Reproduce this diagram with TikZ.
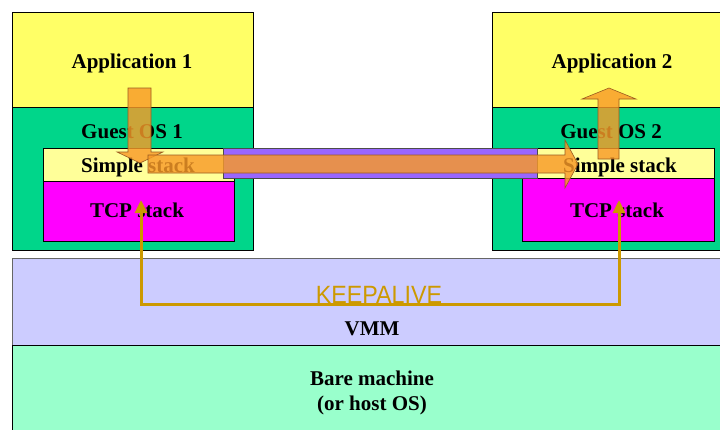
\documentclass[tikz,border=0pt]{standalone}
\usepackage{fontspec}
\setmainfont{Liberation Serif}
\setsansfont{Liberation Sans}
\usetikzlibrary{arrows.meta}
\begin{document}

\definecolor{appyellow}{HTML}{FFFF66}
\definecolor{guestgreen}{HTML}{00D68A}
\definecolor{simpleyellow}{HTML}{FFFF99}
\definecolor{tcpmag}{HTML}{FF00FF}
\definecolor{vmmblue}{HTML}{CCCCFF}
\definecolor{baregreen}{HTML}{99FFCC}
\definecolor{barpurple}{HTML}{9966FF}
\definecolor{flow}{HTML}{F89A28}
\definecolor{flowedge}{HTML}{9A5A20}
\definecolor{keepgold}{HTML}{CC9900}

\tikzset{
  layer/.style={draw=black, line width=0.8pt, anchor=north west, inner sep=0pt},
  lbl/.style={font=\fontsize{21}{25}\selectfont\bfseries, inner sep=0pt, anchor=base},
  flowarrow/.style={fill=flow, fill opacity=0.82, draw=flowedge, line width=0.6pt},
  keep/.style={draw=keepgold, line width=3pt,
    {Triangle[length=13pt,width=12pt]}-{Triangle[length=13pt,width=12pt]}}
}

\begin{tikzpicture}[x=1pt,y=-1pt]
\useasboundingbox (0,0) rectangle (720,429);
\fill[white] (0,0) rectangle (720,429);

% host layers
\node[layer, fill=vmmblue, draw=black!60, minimum width=720pt, minimum height=87pt] (vmm) at (12,258) {};
\node[layer, fill=baregreen, minimum width=720pt, minimum height=90pt] (bare) at (12,345) {};

% guest 1
\node[layer, fill=appyellow, minimum width=241pt, minimum height=96pt] (app1) at (12,12) {};
\node[layer, fill=guestgreen, minimum width=241pt, minimum height=143pt] (os1) at (12,107) {};
\node[layer, fill=simpleyellow, minimum width=191pt, minimum height=33pt] (ss1) at (43,148) {};
\node[layer, fill=tcpmag, minimum width=191pt, minimum height=60pt] (tcp1) at (43,181) {};

% guest 2
\node[layer, fill=appyellow, minimum width=240pt, minimum height=95pt] (app2) at (492,12) {};
\node[layer, fill=guestgreen, minimum width=240pt, minimum height=143pt] (os2) at (492,107) {};
\node[layer, fill=simpleyellow, minimum width=192pt, minimum height=30pt] (ss2) at (522,148) {};
\node[layer, fill=tcpmag, minimum width=192pt, minimum height=63pt] (tcp2) at (522,178) {};

% labels (placed by baseline)
\node[lbl] (tapp1) at (132,68) {Application 1};
\node[lbl] (tos1)  at (132,138) {Guest OS 1};
\node[lbl] (tss1)  at (138,172) {Simple stack};
\node[lbl] (ttcp1) at (137,217) {TCP stack};
\node[lbl] (tapp2) at (612,68) {Application 2};
\node[lbl] (tos2)  at (611,138) {Guest OS 2};
\node[lbl] (tss2)  at (620,172) {Simple stack};
\node[lbl] (ttcp2) at (617,217) {TCP stack};
\node[lbl] (tvmm)  at (372,335) {VMM};
\node[lbl] (tbare1) at (372,385) {Bare machine};
\node[lbl] (tbare2) at (372,410) {(or host OS)};

% shared channel between the simple stacks
\node[layer, fill=barpurple, draw=black!70, minimum width=314pt, minimum height=30pt] (chan) at (223,148) {};

% data flow: down into stack 1, across, up out of stack 2
\draw[flowarrow] (128,88) -- (151,88) -- (151,152) -- (163,152) -- (140,163) -- (117,152) -- (128,152) -- cycle;
\draw[flowarrow] (148,155) -- (565,155) -- (565,140) -- (578,164) -- (565,188) -- (565,173) -- (148,173) -- cycle;
\draw[flowarrow] (598,159) -- (598,99) -- (582,99) -- (609,88) -- (636,99) -- (619,99) -- (619,159) -- cycle;

% keepalive path between the two TCP stacks
\coordinate (kaL) at (141,200);
\coordinate (kaR) at (619,200);
\coordinate (kaB) at (0,304);
\draw[keep] (kaL) -- (kaL |- kaB) -- (kaR |- kaB) -- (kaR);
\node[font=\sffamily\fontsize{25}{28}\selectfont, text=keepgold, inner sep=0pt, anchor=base] (tka) at (379,303) {\scalebox{0.93}[1]{KEEPALIVE}};
\end{tikzpicture}
\end{document}
